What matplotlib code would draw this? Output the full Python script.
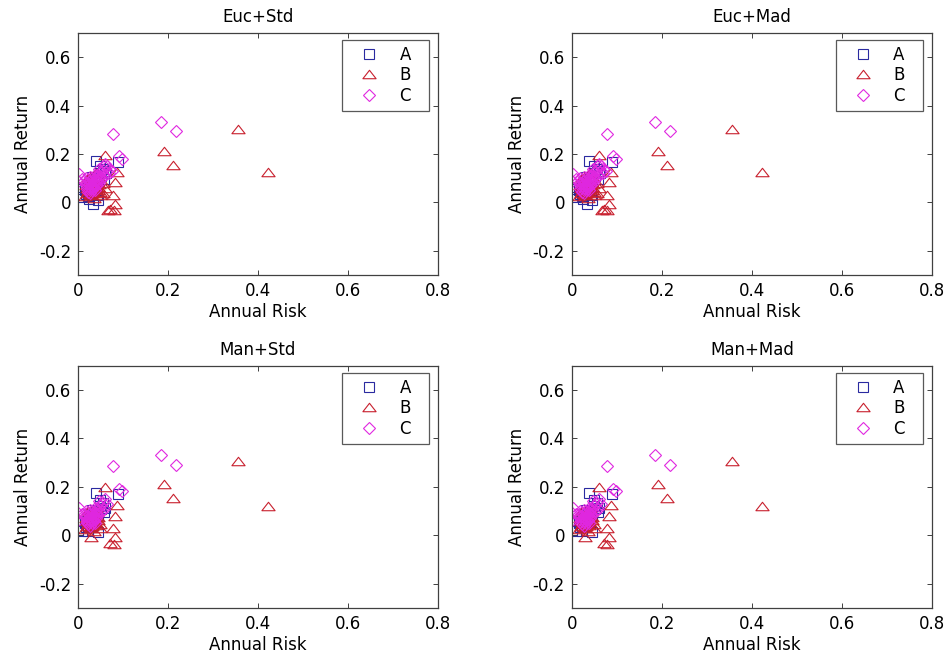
import matplotlib
matplotlib.use("Agg")
import matplotlib.pyplot as plt
from matplotlib.path import Path

plt.rcParams['font.family'] = ['DejaVu Sans']

titles = ["Euc+Std", "Euc+Mad", "Man+Std", "Man+Mad"]
series_names = ["A", "B", "C"]
x_ticks = [0, 0.2, 0.4, 0.6, 0.8]
y_ticks = [-0.2, 0, 0.2, 0.4, 0.6]
x_tick_labels = ['0', '0.2', '0.4', '0.6', '0.8']
y_tick_labels = ['-0.2', '0', '0.2', '0.4', '0.6']

# ---- Euclidean panels (top row) ----
euc_A_risk = [0.039, 0.088, 0.000, 0.033, 0.045, 0.024, 0.010, 0.050, 0.055, 0.060, 0.048, 0.040,
              0.035, 0.030, 0.025, 0.020, 0.045, 0.052, 0.028, 0.018, 0.038, 0.042, 0.015, 0.058,
              0.032, 0.062, 0.022]
euc_A_ret = [0.170, 0.167, 0.056, -0.008, 0.011, 0.013, 0.021, 0.150, 0.140, 0.130, 0.120, 0.100,
             0.090, 0.080, 0.070, 0.060, 0.085, 0.110, 0.040, 0.035, 0.060, 0.030, 0.050, 0.095,
             0.105, 0.120, 0.025]
euc_B_risk = [0.356, 0.423, 0.191, 0.211, 0.061, 0.087, 0.083, 0.077, 0.083, 0.071, 0.079, 0.067,
              0.020, 0.025, 0.030, 0.035, 0.040, 0.028, 0.033, 0.038, 0.045, 0.050, 0.048, 0.022,
              0.030, 0.042, 0.055, 0.060, 0.018, 0.026, 0.036, 0.015, 0.055, 0.040, 0.032, 0.024,
              0.027, 0.031, 0.034, 0.037, 0.041, 0.029, 0.023, 0.036, 0.044, 0.021, 0.039, 0.047]
euc_B_ret = [0.303, 0.125, 0.214, 0.153, 0.197, 0.125, 0.085, 0.032, -0.005, -0.027, -0.030, -0.030,
             0.040, 0.050, 0.060, 0.070, 0.080, 0.030, 0.045, 0.055, 0.065, 0.045, 0.030, 0.100,
             0.110, 0.100, 0.080, 0.060, 0.070, 0.085, 0.020, 0.025, 0.040, 0.120, 0.090, 0.055,
             0.035, 0.040, 0.052, 0.062, 0.072, 0.065, 0.048, 0.078, 0.052, 0.058, 0.042, 0.075]
euc_C_risk = [0.184, 0.218, 0.078, 0.092, 0.097, 0.002, 0.000, 0.060, 0.065, 0.055, 0.050, 0.045,
              0.040, 0.035, 0.030, 0.025, 0.020, 0.015, 0.010, 0.070, 0.068, 0.058, 0.048, 0.038,
              0.028, 0.022, 0.033, 0.043, 0.053, 0.063, 0.075, 0.018, 0.027, 0.037, 0.047, 0.057,
              0.024, 0.029, 0.034, 0.039, 0.044, 0.026, 0.031, 0.036, 0.041, 0.021, 0.032, 0.042,
              0.027, 0.037, 0.046, 0.019, 0.030, 0.035, 0.040, 0.050]
euc_C_ret = [0.333, 0.293, 0.284, 0.190, 0.180, 0.116, 0.090, 0.160, 0.150, 0.135, 0.125, 0.115,
             0.105, 0.095, 0.085, 0.075, 0.065, 0.080, 0.095, 0.140, 0.120, 0.110, 0.095, 0.075,
             0.060, 0.045, 0.065, 0.085, 0.100, 0.125, 0.130, 0.100, 0.105, 0.115, 0.140, 0.150,
             0.055, 0.068, 0.078, 0.088, 0.098, 0.088, 0.050, 0.060, 0.070, 0.080, 0.100, 0.108,
             0.040, 0.050, 0.080, 0.055, 0.072, 0.082, 0.092, 0.110]

# ---- Manhattan panels (bottom row) ----
man_A_risk = [0.039, 0.088, 0.050, 0.010, 0.044, 0.023, 0.055, 0.048, 0.040, 0.035, 0.030, 0.025,
              0.020, 0.045, 0.052, 0.028, 0.018, 0.038, 0.015, 0.058, 0.032, 0.060]
man_A_ret = [0.173, 0.170, 0.146, 0.019, 0.014, 0.017, 0.135, 0.120, 0.100, 0.090, 0.080, 0.070,
             0.060, 0.085, 0.110, 0.040, 0.035, 0.060, 0.050, 0.095, 0.105, 0.115]
man_B_risk = [0.356, 0.423, 0.191, 0.211, 0.061, 0.087, 0.083, 0.077, 0.083, 0.071, 0.079, 0.030,
              0.020, 0.025, 0.030, 0.035, 0.040, 0.028, 0.033, 0.038, 0.045, 0.050, 0.048, 0.022,
              0.030, 0.042, 0.018, 0.026, 0.036, 0.015, 0.040, 0.032, 0.024, 0.027, 0.031, 0.034,
              0.037, 0.029, 0.023, 0.036, 0.021, 0.039, 0.044]
man_B_ret = [0.305, 0.123, 0.214, 0.154, 0.200, 0.125, 0.081, 0.029, -0.008, -0.030, -0.035, -0.007,
             0.040, 0.050, 0.060, 0.070, 0.080, 0.030, 0.045, 0.055, 0.065, 0.045, 0.030, 0.100,
             0.105, 0.095, 0.070, 0.085, 0.020, 0.025, 0.115, 0.090, 0.055, 0.035, 0.040, 0.052,
             0.062, 0.065, 0.048, 0.078, 0.058, 0.042, 0.075]
man_C_risk = [0.184, 0.218, 0.078, 0.092, 0.097, 0.002, 0.000, 0.000, 0.060, 0.055, 0.050, 0.045,
              0.040, 0.035, 0.030, 0.025, 0.020, 0.015, 0.010, 0.065, 0.058, 0.048, 0.038, 0.028,
              0.022, 0.033, 0.043, 0.053, 0.018, 0.027, 0.037, 0.047, 0.024, 0.029, 0.034, 0.039,
              0.026, 0.031, 0.036, 0.041, 0.021, 0.032, 0.042, 0.027, 0.037, 0.019, 0.030, 0.035,
              0.040, 0.044]
man_C_ret = [0.332, 0.292, 0.287, 0.190, 0.182, 0.115, 0.092, 0.062, 0.150, 0.135, 0.125, 0.115,
             0.105, 0.095, 0.085, 0.075, 0.065, 0.080, 0.090, 0.130, 0.110, 0.095, 0.075, 0.060,
             0.045, 0.065, 0.085, 0.100, 0.100, 0.105, 0.115, 0.140, 0.055, 0.068, 0.078, 0.088,
             0.088, 0.050, 0.060, 0.070, 0.080, 0.100, 0.108, 0.040, 0.050, 0.055, 0.072, 0.082,
             0.092, 0.100]

top_data = [(euc_A_risk, euc_A_ret), (euc_B_risk, euc_B_ret), (euc_C_risk, euc_C_ret)]
bot_data = [(man_A_risk, man_A_ret), (man_B_risk, man_B_ret), (man_C_risk, man_C_ret)]
panel_data = [top_data, top_data, bot_data, bot_data]

colors = ['#2a2aa0', '#c8202e', '#e028e0']
tri = Path([(0, 0.64), (-1, -0.64), (1, -0.64), (0, 0.64)],
           [Path.MOVETO, Path.LINETO, Path.LINETO, Path.CLOSEPOLY])
markers = ['s', tri, 'D']
msizes = [7.5, 9.5, 5.8]

fig = plt.figure(figsize=(9.5, 6.58), dpi=100)
lefts = [0.0821, 0.602, 0.0821, 0.602]
bottoms = [0.582, 0.582, 0.076, 0.076]
W, H = 0.379, 0.368

spine_col = '#404040'
for i in range(4):
    ax = fig.add_axes([lefts[i], bottoms[i], W, H])
    for k in range(3):
        xs, ys = panel_data[i][k]
        ax.plot(xs, ys, linestyle='none', marker=markers[k], ms=msizes[k],
                mfc='none', mec=colors[k], mew=0.8, label=series_names[k])
    ax.set_xlim(0, 0.8)
    ax.set_ylim(-0.3, 0.7)
    ax.set_xticks(x_ticks)
    ax.set_yticks(y_ticks)
    ax.set_xticklabels(x_tick_labels)
    ax.set_yticklabels(y_tick_labels)
    ax.tick_params(direction='in', length=3.5, width=0.7, top=True, right=True,
                   labelsize=12, pad=5, color=spine_col)
    for sp in ax.spines.values():
        sp.set_color(spine_col)
        sp.set_linewidth(0.9)
    ax.set_title(titles[i], fontsize=12, pad=8)
    ax.set_xlabel('Annual Risk', fontsize=12, labelpad=2)
    ax.set_ylabel('Annual Return', fontsize=12, labelpad=5)
    leg = ax.legend(loc='upper left', bbox_to_anchor=(0.733, 0.707, 0.242, 0.264),
                    mode='expand', borderaxespad=0, fontsize=12, fancybox=False,
                    frameon=True, handlelength=2.6, handletextpad=0.5,
                    labelspacing=0.15, borderpad=0.35)
    leg.get_frame().set_edgecolor('#303030')
    leg.get_frame().set_linewidth(0.9)

fig.savefig('out.png', dpi=100)
